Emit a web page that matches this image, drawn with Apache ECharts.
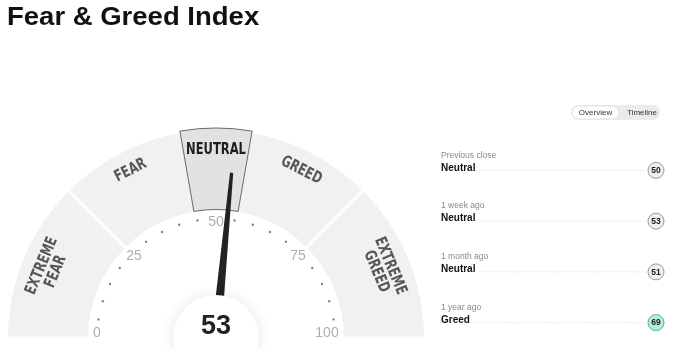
<!DOCTYPE html>
<html><head><meta charset="utf-8">
<script src="https://cdn.jsdelivr.net/npm/echarts@6/dist/echarts.min.js"></script>
<style>html,body{margin:0;padding:0;background:#fff}#c{width:679px;height:348px}</style>
</head><body><div id="c"></div>
<script>
// ---- data ----
const bandNames = ['EXTREME\nFEAR', 'FEAR', 'NEUTRAL', 'GREED', 'EXTREME\nGREED'];
const bandStarts = [0, 25, 45, 55, 75];
const bandEnds = [25, 45, 55, 75, 100];
const currentValue = 53;
const currentBand = 'NEUTRAL';
const scaleLabels = [0, 25, 50, 75, 100];
const tickValues = [5, 10, 15, 20, 30, 35, 40, 45, 55, 60, 65, 70, 80, 85, 90, 95];
const historyPeriods = ['Previous close', '1 week ago', '1 month ago', '1 year ago'];
const historyRatings = ['Neutral', 'Neutral', 'Neutral', 'Greed'];
const historyValues = [50, 53, 51, 69];

// ---- layout / style ----
const CX = 216, CY = 338, R_OUT = 208, R_IN = 128;
const condensed = "'Liberation Sans Narrow','DejaVu Sans Condensed',sans-serif";
const sans = "'Liberation Sans',Arial,sans-serif";
const ratingFill = { Neutral: '#efefef', Greed: '#b8ecdd', Fear: '#f7d3cf' };
const ratingStroke = { Neutral: '#9a9a9a', Greed: '#3fb59d', Fear: '#d9786c' };

const mctx = document.createElement('canvas').getContext('2d');
function textW(t, font) { mctx.font = font; return mctx.measureText(t).width; }

const chart = echarts.init(document.getElementById('c'), null, { renderer: 'canvas' });

function screenAngle(api, cs, v) {
  const p = api.coord([R_OUT, v]);
  return Math.atan2(p[1] - cs.cy, p[0] - cs.cx);
}

const option = {
  animation: false,
  backgroundColor: '#fff',
  polar: { center: [CX, CY], radius: [0, R_OUT] },
  radiusAxis: { type: 'value', min: 0, max: R_OUT, show: false },
  angleAxis: { type: 'value', min: 0, max: 200, startAngle: 180, clockwise: true, show: false,
    splitLine: { show: false }, axisLine: { show: false } },
  grid: { left: 441, top: 145, width: 215, height: 206, show: false },
  xAxis: { type: 'value', min: 0, max: 1, show: false },
  yAxis: { type: 'category', data: historyPeriods, inverse: true, show: false },
  graphic: [
    { type: 'text', x: 7, y: 18, scaleX: 1.1, style: { text: 'Fear & Greed Index', font: "bold 25px 'Liberation Sans',Arial,sans-serif", fill: '#111', verticalAlign: 'middle' } },
    { type: 'rect', shape: { x: 571, y: 105, width: 89, height: 15, r: 7.5 }, style: { fill: '#ebebeb' } },
    { type: 'rect', shape: { x: 572, y: 106, width: 47, height: 13, r: 6.5 }, style: { fill: '#fff', stroke: '#dedede', lineWidth: 0.8 } },
    { type: 'text', x: 595.5, y: 112.7, style: { text: 'Overview', font: '8px ' + sans, fill: '#333', align: 'center', verticalAlign: 'middle' } },
    { type: 'text', x: 642, y: 112.7, style: { text: 'Timeline', font: '8px ' + sans, fill: '#333', align: 'center', verticalAlign: 'middle' } }
  ],
  series: [
    {
      type: 'custom', coordinateSystem: 'polar', silent: true, z: 1,
      data: bandNames.map((n, i) => [bandStarts[i], bandEnds[i]]),
      renderItem: function (params, api) {
        const i = params.dataIndex;
        const cs = params.coordSys;
        const s = api.value(0), e = api.value(1);
        const sel = bandNames[i] === currentBand;
        const pad = sel ? 0.5 : 0;
        let a0 = screenAngle(api, cs, s - pad), a1 = screenAngle(api, cs, e + pad);
        while (a1 < a0) a1 += 2 * Math.PI;
        const mid = (s + e) / 2;
        const multi = bandNames[i].indexOf('\n') >= 0;
        const lp = api.coord([multi ? 181 : 188, mid]);
        const am = screenAngle(api, cs, mid);
        const rot = -am - Math.PI / 2;
        return {
          type: 'group',
          children: [
            {
              type: 'sector',
              shape: { cx: cs.cx, cy: cs.cy, r0: sel ? R_IN + 0.5 : R_IN - 1.5, r: sel ? R_OUT + 2 : R_OUT + 1.5, startAngle: a0, endAngle: a1, clockwise: true },
              style: { fill: sel ? '#e2e2e2' : '#f1f1f1', stroke: sel ? '#6a6a6a' : '#fff', lineWidth: sel ? 1 : 3 },
              z2: sel ? 10 : 0
            },
            {
              type: 'text', x: lp[0], y: lp[1], rotation: rot, scaleX: 0.8, z2: 20,
              style: { text: bandNames[i], font: 'bold 16px ' + condensed, fill: sel ? '#1e1e1e' : '#575757', align: 'center', verticalAlign: 'middle', lineHeight: 15 }
            }
          ]
        };
      }
    },
    {
      type: 'scatter', coordinateSystem: 'polar', silent: true, z: 2,
      symbol: 'circle', symbolSize: 2.4, itemStyle: { color: '#666' },
      data: tickValues.map(v => [119, v])
    },
    {
      type: 'scatter', coordinateSystem: 'polar', silent: true, z: 2,
      symbolSize: 0.1, itemStyle: { color: 'rgba(0,0,0,0)' },
      label: { show: true, position: 'inside', formatter: p => String(p.value[1]), color: '#9a9a9a', fontSize: 14, fontFamily: sans },
      data: scaleLabels.map(v => ({
        value: [116, v],
        label: { offset: v === 0 ? [-3, -5] : v === 100 ? [-5, -5] : [0, 0] }
      }))
    },
    {
      type: 'gauge', center: [CX, CY], radius: 166, min: 0, max: 100, startAngle: 180, endAngle: 0, z: 3,
      axisLine: { show: false }, axisTick: { show: false }, splitLine: { show: false }, axisLabel: { show: false },
      pointer: { icon: 'path://M3.4,0 L6.6,0 L10,100 L0,100 Z', length: '100%', width: 10, offsetCenter: [0, 0], itemStyle: { color: '#222' } },
      anchor: { show: false }, title: { show: false }, detail: { show: false },
      data: [{ value: currentValue }]
    },
    {
      type: 'custom', coordinateSystem: 'polar', silent: true, z: 5,
      data: [[0, currentValue]],
      renderItem: function (params, api) {
        const c = api.coord([0, 0]);
        return {
          type: 'group',
          children: [
            { type: 'circle', shape: { cx: c[0], cy: c[1], r: 43 }, style: { fill: '#fff', shadowBlur: 14, shadowColor: 'rgba(0,0,0,0.10)' } },
            { type: 'text', x: c[0], y: c[1] - 11, style: { text: String(api.value(1)), font: 'bold 27px ' + sans, fill: '#222', align: 'center', verticalAlign: 'middle' } }
          ]
        };
      }
    },
    {
      type: 'custom', coordinateSystem: 'cartesian2d', silent: true, z: 2,
      data: historyValues.map((v, i) => [1, i, v]),
      encode: { x: 0, y: 1 },
      renderItem: function (params, api) {
        const i = params.dataIndex;
        const endP = api.coord([1, i]);
        const startP = api.coord([0, i]);
        const y = endP[1];
        const rating = historyRatings[i];
        const rFont = 'bold 10px ' + sans;
        const rw = textW(rating, rFont);
        return {
          type: 'group',
          children: [
            { type: 'text', x: startP[0], y: y - 15, style: { text: historyPeriods[i], font: '8.5px ' + sans, fill: '#888', verticalAlign: 'middle' } },
            { type: 'text', x: startP[0], y: y - 2.5, style: { text: rating, font: rFont, fill: '#111', verticalAlign: 'middle' } },
            { type: 'line', shape: { x1: startP[0] + rw + 4, y1: y, x2: endP[0] - 10, y2: y }, style: { stroke: '#d6d6d6', lineWidth: 0.8, lineDash: [1, 1.5] } },
            { type: 'circle', shape: { cx: endP[0], cy: y, r: 8 }, style: { fill: ratingFill[rating], stroke: ratingStroke[rating], lineWidth: 1 } },
            { type: 'text', x: endP[0], y: y + 0.5, style: { text: String(api.value(2)), font: 'bold 8.5px ' + sans, fill: '#222', align: 'center', verticalAlign: 'middle' } }
          ]
        };
      }
    }
  ]
};
chart.setOption(option);
</script></body></html>
